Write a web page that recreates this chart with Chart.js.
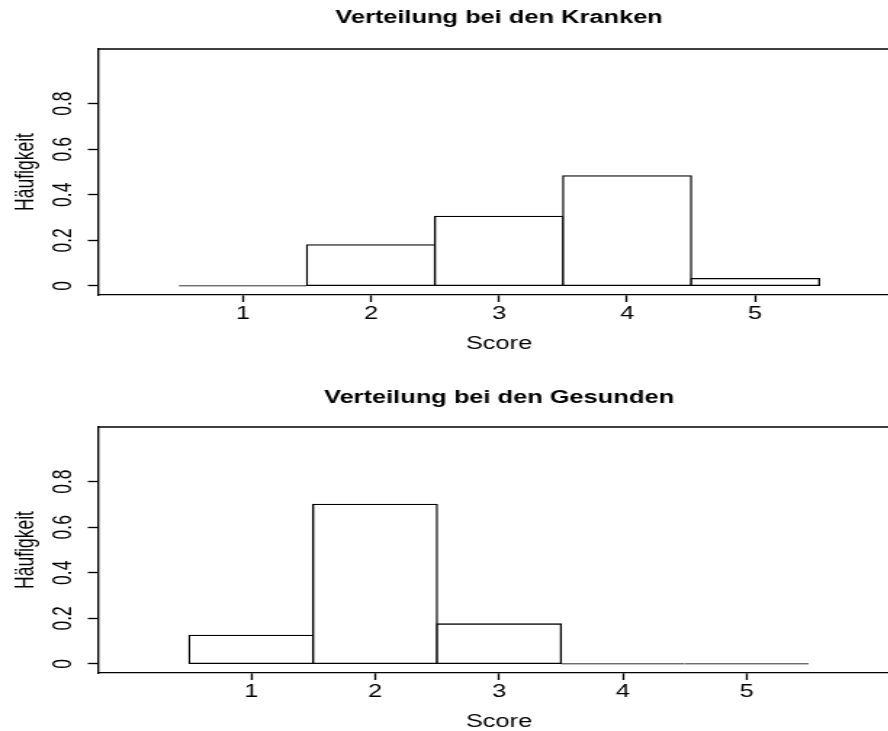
<!DOCTYPE html>
<html>
<head>
<meta charset="utf-8">
<script src="https://cdn.jsdelivr.net/npm/chart.js@4/dist/chart.umd.min.js"></script>
<style>
  html, body { margin: 0; padding: 0; background: #fff; overflow: hidden; }
  #wrap { position: relative; width: 888px; height: 731px; overflow: hidden; background: #fff; }
  .panel { position: absolute; left: 0; width: 900px; }
  canvas { display: block; }
</style>
</head>
<body>
<div id="wrap">
  <div class="panel" style="top:0;height:378px">
    <canvas id="kranke" width="620" height="378" style="width:900px;height:378px"></canvas>
  </div>
  <div class="panel" style="top:378px;height:353px">
    <canvas id="gesunde" width="620" height="353" style="width:900px;height:353px"></canvas>
  </div>
</div>
<script>
// Score categories and relative frequencies per group
const scores = [1, 2, 3, 4, 5];
const scoreLabels = ['1', '2', '3', '4', '5'];
const kranke = [0, 0.18, 0.305, 0.483, 0.032];
const gesunde = [0.125, 0.7, 0.175, 0, 0];
const yTicks = [0, 0.2, 0.4, 0.6, 0.8];
const yTickLabels = ['0', '0.2', '0.4', '0.6', '0.8'];

const FONT = "'Liberation Sans', Arial, Helvetica, sans-serif";
const INK = '#000';
const LW = 1.35;

// closes the plot box along its upper edge
const boxTop = {
  id: 'boxTop',
  afterDraw(chart) {
    const { ctx, chartArea: { left, right, top } } = chart;
    ctx.save();
    ctx.strokeStyle = INK;
    ctx.lineWidth = LW;
    ctx.beginPath();
    ctx.moveTo(left, top);
    ctx.lineTo(right, top);
    ctx.stroke();
    ctx.restore();
  }
};

function histogram(canvasId, title, values, opt) {
  return new Chart(document.getElementById(canvasId), {
    type: 'bar',
    data: {
      datasets: [{
        data: scores.map((s, i) => ({ x: s, y: values[i] })),
        backgroundColor: '#fff',
        borderColor: INK,
        borderWidth: LW,
        borderSkipped: false,
        minBarLength: LW,
        inflateAmount: (c) => (c.raw && c.raw.y === 0 ? 0 : LW / 2),
        barPercentage: 1,
        categoryPercentage: 1
      }]
    },
    plugins: [boxTop],
    options: {
      responsive: false,
      devicePixelRatio: 1,
      animation: false,
      events: [],
      layout: { padding: { left: 0, right: 0, top: 0, bottom: opt.padBottom } },
      plugins: {
        legend: { display: false },
        tooltip: { enabled: false },
        title: {
          display: true,
          text: title,
          fullSize: false,
          color: '#000',
          font: { family: FONT, size: 17.5, weight: 'bold', lineHeight: 1 },
          padding: { top: opt.titleTop, bottom: 49 - opt.titleTop - 17.5 }
        }
      },
      scales: {
        x: {
          type: 'linear',
          min: opt.xMin,
          max: opt.xMax,
          offset: false,
          bounds: 'data',
          afterBuildTicks: (s) => { s.ticks = scores.map(v => ({ value: v })); },
          afterFit: (s) => { s.height = 57.7; },
          ticks: {
            color: '#000',
            padding: 3.2,
            autoSkip: false,
            maxRotation: 0,
            font: { family: FONT, size: 17.5, lineHeight: 1 },
            callback: (v, i) => scoreLabels[i]
          },
          grid: {
            display: true,
            offset: false,
            drawOnChartArea: false,
            drawTicks: true,
            tickLength: 7,
            tickWidth: LW,
            tickColor: INK,
            color: INK
          },
          border: { display: true, color: INK, width: LW },
          title: {
            display: true,
            text: 'Score',
            color: '#000',
            font: { family: FONT, size: 17.5, lineHeight: 1 },
            padding: { top: 0, bottom: 0 }
          }
        },
        y: {
          type: 'linear',
          min: -0.04,
          max: 1.04,
          bounds: 'data',
          afterBuildTicks: (s) => { s.ticks = yTicks.map(v => ({ value: v })); },
          afterFit: (s) => { s.width = 67.5; },
          ticks: {
            color: '#000',
            padding: 4.1,
            minRotation: 90,
            maxRotation: 90,
            crossAlign: 'center',
            autoSkip: false,
            font: { family: FONT, size: 17.5, lineHeight: 1 },
            callback: (v, i) => yTickLabels[i]
          },
          grid: {
            display: true,
            offset: false,
            drawOnChartArea: false,
            drawTicks: true,
            tickLength: 7,
            tickWidth: LW,
            tickColor: INK,
            color: INK
          },
          border: { display: true, color: INK, width: LW },
          title: {
            display: true,
            text: 'Häufigkeit',
            color: '#000',
            font: { family: FONT, size: 17.5, lineHeight: 1 },
            padding: { top: 9.75, bottom: 0 }
          }
        }
      }
    }
  });
}

histogram('kranke', 'Verteilung bei den Kranken', kranke,
  { xMin: -0.1305, xMax: 6.1305, titleTop: 9.5, padBottom: 378 - 352.7 });
histogram('gesunde', 'Verteilung bei den Gesunden', gesunde,
  { xMin: -0.236, xMax: 6.236, titleTop: 11.2, padBottom: 353 - 352.7 });
</script>
</body>
</html>
